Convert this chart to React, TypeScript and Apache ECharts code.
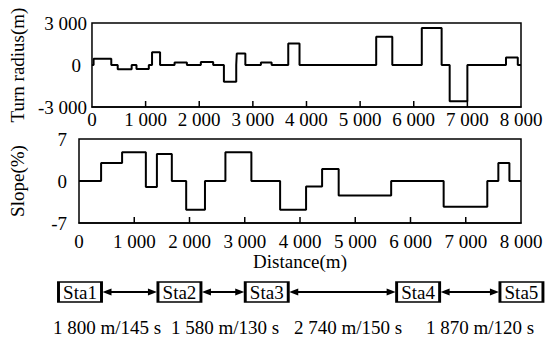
import React, { useEffect, useRef } from "react";
import * as echarts from "echarts";

// Turn radius rectangles (m): start, end, value
const radiusStart = [30, 480, 830, 1120, 1540, 2030, 2460, 2700, 3150, 3660, 5300, 6150, 6670, 7720];
const radiusEnd = [360, 740, 1060, 1270, 1770, 2260, 2690, 2860, 3350, 3870, 5600, 6520, 7000, 7940];
const radiusValue = [450, -300, -290, 910, 170, 210, -1200, 820, 170, 1540, 2020, 2640, -2590, 530];

// Slope profile (%): breakpoints and value in each interval
const slopeBreaks = [0, 400, 780, 1210, 1410, 1680, 1940, 2280, 2650, 3120, 3640, 4110, 4400, 4700, 5650, 6600, 7390, 7590, 7790, 8000];
const slopeValues = [0, 3, 4.8, -1, 4.5, 0, -4.8, 0, 4.8, 0, -4.8, -0.9, 2, -2.4, 0, -4.3, 0, 3, 0];

// Stations
const stationNames = ["Sta1", "Sta2", "Sta3", "Sta4", "Sta5"];
const stationPositions = [0, 1800, 3380, 6120, 7990];
const segmentDistances = [1800, 1580, 2740, 1870];
const segmentTimes = [145, 130, 150, 120];
const segmentLabelX = [107, 225, 348, 480];

// Inner tick positions on the distance axes
const distanceTicks = [1000, 2000, 3000, 4000, 5000, 6000, 7000];

const DIST_MAX = 8000;
const DIST_INTERVAL = 1000;
const RADIUS_MIN = -3000;
const RADIUS_MAX = 3000;
const SLOPE_MIN = -7;
const SLOPE_MAX = 7;

const FONT = "'Liberation Serif', 'Times New Roman', serif";
const FS = 19;

const fmt = (v: number) => {
  const s = String(Math.abs(v)).replace(/\B(?=(\d{3})+(?!\d))/g, " ");
  return (v < 0 ? "-" : "") + s;
};

function radiusPoints() {
  const pts: number[][] = [[0, 0]];
  for (let i = 0; i < radiusStart.length; i++) {
    pts.push([radiusStart[i], 0], [radiusStart[i], radiusValue[i]], [radiusEnd[i], radiusValue[i]], [radiusEnd[i], 0]);
  }
  pts.push([DIST_MAX, 0]);
  return pts;
}

function slopePoints() {
  const pts: number[][] = [];
  for (let i = 0; i < slopeValues.length; i++) {
    pts.push([slopeBreaks[i], slopeValues[i]], [slopeBreaks[i + 1], slopeValues[i]]);
  }
  return pts;
}

export default function App() {
  const ref = useRef<HTMLDivElement>(null);
  useEffect(() => {
    if (!ref.current) return;
    const chart = echarts.init(ref.current, null, { renderer: "svg" });
    const gridBase = {
      left: 78,
      width: 443,
      show: true,
      borderColor: "#000",
      borderWidth: 1.5,
    };
    const labelStyle = { fontFamily: FONT, fontSize: FS, color: "#000" };
    const xBase = {
      type: "value",
      min: 0,
      max: DIST_MAX,
      interval: DIST_INTERVAL,
      axisLine: { show: true, onZero: false, lineStyle: { color: "#000", width: 1.5 } },
      axisTick: { show: false },
      splitLine: { show: false },
    };
    const option: any = {
      animation: false,
      backgroundColor: "#fff",
      textStyle: { fontFamily: FONT },
      grid: [
        { ...gridBase, top: 23, height: 84 },
        { ...gridBase, top: 139, height: 84 },
        { left: 80, width: 442, top: 282, height: 20 },
      ],
      xAxis: [
        { ...xBase, gridIndex: 0, axisLabel: { ...labelStyle, margin: 3, formatter: fmt } },
        {
          ...xBase,
          gridIndex: 1,
          axisLabel: { ...labelStyle, margin: 9, formatter: fmt },
          name: "Distance(m)",
          nameLocation: "middle",
          nameGap: 29,
          nameTextStyle: labelStyle,
        },
        { type: "value", gridIndex: 2, min: 0, max: DIST_MAX, show: false },
      ],
      yAxis: [
        {
          type: "value",
          gridIndex: 0,
          min: RADIUS_MIN,
          max: RADIUS_MAX,
          interval: 3000,
          axisLine: { show: false, onZero: false },
          axisTick: { show: false },
          splitLine: { show: false },
          axisLabel: {
            ...labelStyle,
            margin: 5,
            formatter: (v: number) => (v === 0 ? "{z|0}" : fmt(v)),
            rich: { z: { ...labelStyle, padding: [0, 6, 0, 0] } },
          },
          name: "Turn radius(m)",
          nameLocation: "middle",
          nameRotate: 90,
          nameGap: 53,
          nameTextStyle: labelStyle,
        },
        {
          type: "value",
          gridIndex: 1,
          min: SLOPE_MIN,
          max: SLOPE_MAX,
          interval: 7,
          axisLine: { show: false, onZero: false },
          axisTick: { show: false },
          splitLine: { show: false },
          axisLabel: { ...labelStyle, margin: 12, formatter: fmt },
          name: "Slope(%)",
          nameLocation: "middle",
          nameRotate: 90,
          nameGap: 52,
          nameTextStyle: labelStyle,
        },
        { type: "value", gridIndex: 2, min: -1, max: 1, show: false },
      ],
      series: [
        {
          type: "line",
          xAxisIndex: 0,
          yAxisIndex: 0,
          data: radiusPoints(),
          showSymbol: false,
          lineStyle: { color: "#000", width: 2 },
          clip: false,
        },
        {
          type: "line",
          xAxisIndex: 1,
          yAxisIndex: 1,
          data: slopePoints(),
          showSymbol: false,
          lineStyle: { color: "#000", width: 2 },
          clip: false,
        },
        {
          type: "scatter",
          xAxisIndex: 2,
          yAxisIndex: 2,
          symbol: "rect",
          symbolSize: [43, 20],
          clip: false,
          z: 5,
          itemStyle: { color: "#fff", borderColor: "#000", borderWidth: 2, opacity: 1 },
          label: { show: true, position: "inside", formatter: "{b}", ...labelStyle },
          data: stationNames.map((n, i) => ({ name: n, value: [stationPositions[i], 0] })),
        },
      ],
    };
    chart.setOption(option);

    const graphics: any[] = [];
    const tickLen = 6;
    // inner ticks on both distance axes
    const tickGrids: [number, number][] = [
      [0, RADIUS_MIN],
      [1, SLOPE_MIN],
    ];
    tickGrids.forEach(([g, yMin]) => {
      distanceTicks.forEach((t) => {
        const p = chart.convertToPixel({ gridIndex: g }, [t, yMin]) as number[];
        graphics.push({
          type: "line",
          z: 100,
          shape: { x1: p[0], y1: p[1], x2: p[0], y2: p[1] - tickLen },
          style: { stroke: "#000", lineWidth: 1.5 },
        });
      });
    });

    const half = 21.5;
    const aLen = 9;
    const aHalf = 3.5;
    for (let i = 0; i < stationPositions.length - 1; i++) {
      const p1 = chart.convertToPixel({ gridIndex: 2 }, [stationPositions[i], 0]) as number[];
      const p2 = chart.convertToPixel({ gridIndex: 2 }, [stationPositions[i + 1], 0]) as number[];
      const x1 = p1[0] + half + 1;
      const x2 = p2[0] - half - 1;
      const y = p1[1];
      graphics.push({
        type: "line",
        shape: { x1: x1 + aLen - 1, y1: y, x2: x2 - aLen + 1, y2: y },
        style: { stroke: "#000", lineWidth: 2 },
      });
      graphics.push({
        type: "polygon",
        shape: { points: [[x1, y], [x1 + aLen, y - aHalf], [x1 + aLen, y + aHalf]] },
        style: { fill: "#000" },
      });
      graphics.push({
        type: "polygon",
        shape: { points: [[x2, y], [x2 - aLen, y - aHalf], [x2 - aLen, y + aHalf]] },
        style: { fill: "#000" },
      });
      graphics.push({
        type: "text",
        x: segmentLabelX[i],
        y: 327,
        style: {
          text: `${fmt(segmentDistances[i])} m/${segmentTimes[i]} s`,
          fill: "#000",
          font: `${FS}px ${FONT}`,
          textAlign: "center",
          textVerticalAlign: "middle",
        },
      });
    }
    chart.setOption({ graphic: graphics });

    return () => chart.dispose();
  }, []);
  return (
    <div
      ref={ref}
      style={{ position: "absolute", left: 0, top: 0, width: 550, height: 344 }}
    />
  );
}
